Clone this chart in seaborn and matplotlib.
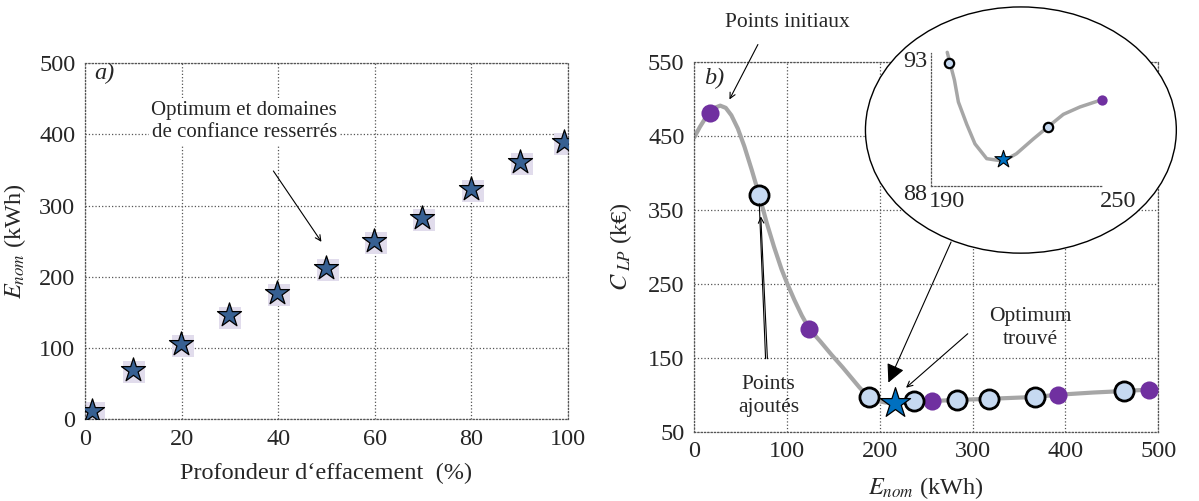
import numpy as np
import pandas as pd
import seaborn as sns
import matplotlib.pyplot as plt
from matplotlib.patches import Ellipse

# =============================================================================
# Data
# =============================================================================

# a) nominal energy vs load shedding depth
depth = [1.5, 9.9, 19.9, 29.8, 39.8, 50.0, 59.9, 69.9, 80.0, 90.2, 99.2]
e_nom = [12, 69, 106, 146, 178, 213, 250, 283, 323, 362, 390]

# b) cost curve and sample points
curve_e = [0, 6, 12, 17, 22, 28, 34, 40, 47, 54, 62, 70, 78, 86, 94, 100,
           108, 116, 124, 136, 148, 160, 170, 178, 184, 188, 196, 206, 216,
           226, 237, 256, 283, 318, 367, 392, 430, 463, 490, 500]
curve_c = [448, 462, 474, 481, 488, 491, 488, 478, 460, 436, 404, 370, 333,
           300, 270, 251, 228, 207, 189, 172, 154, 137, 122, 110, 102, 97,
           92, 89.5, 89.5, 90, 91, 91.5, 93, 94.5, 97, 100, 103, 105, 107, 107]
init_e = [17.5, 124, 256, 392, 490]
init_c = [481, 189, 91.5, 100, 107]
added_e = [70, 188, 237, 283, 318, 367, 463]
added_c = [370, 97, 91, 93, 94.5, 97, 105]
opt_e = [216]
opt_c = [89.5]

# zoomed inset
zoom_e = [195.8, 196.8, 198.3, 199.7, 202.6, 205.5, 209.6, 215.4, 220.0,
          225.9, 231.1, 236.4, 242.2, 250.0]
zoom_c = [93.42, 92.97, 92.3, 91.4, 90.5, 89.7, 89.1, 89.0, 89.3, 89.9,
          90.4, 90.9, 91.2, 91.5]
zoom_added_e = [196.5, 231.1]
zoom_added_c = [93.0, 90.4]
zoom_init_e = [250.0]
zoom_init_c = [91.5]
zoom_opt_e = [215.4]
zoom_opt_c = [89.1]

# =============================================================================
# Style
# =============================================================================

sns.set_style('white')
plt.rcParams['font.family'] = ['Liberation Serif', 'DejaVu Serif']
plt.rcParams['mathtext.fontset'] = 'stix'

gridcol = '#555555'
purple = '#7030a0'
lightblue = '#c6d9f1'
curvecol = '#a6a6a6'

fig = plt.figure(figsize=(11.99, 5.01), dpi=100)
ax1 = fig.add_axes([0.0709, 0.163, 0.4026, 0.7107])
ax2 = fig.add_axes([0.579, 0.1383, 0.387, 0.7379])


def dotted_box(ax):
    ax.grid(True, linestyle=':', color=gridcol, linewidth=0.9)
    for sp in ax.spines.values():
        sp.set_linestyle(':')
        sp.set_color(gridcol)
        sp.set_linewidth(0.9)
    ax.tick_params(length=0, labelsize=17.5, pad=7)


# =============================================================================
# a)
# =============================================================================

dfa = pd.DataFrame({'depth': depth, 'e_nom': e_nom})
# faint lavender shadow behind each star
ax1.scatter(np.array(depth) + 0.3, np.array(e_nom) - 3, marker='s', s=230,
            color='#e1dcec', linewidth=0, zorder=2)
sns.scatterplot(data=dfa, x='depth', y='e_nom', marker='*', s=330,
                color='#376092', edgecolor='black', linewidth=0.9,
                ax=ax1, zorder=3)
ax1.set_xlim(0, 100)
ax1.set_ylim(0, 500)
ax1.set_xticks(range(0, 101, 20))
ax1.set_yticks(range(0, 501, 100))
dotted_box(ax1)
ax1.set_xlabel('Profondeur d\u2018effacement  (%)', fontsize=17.5, labelpad=9)
ax1.set_ylabel(r'$E_{nom}$ (kWh)', fontsize=17.5, labelpad=8)
ax1.text(4.1, 486, 'a)', style='italic', fontsize=17.5, ha='center',
         va='center')
ax1.text(33, 418, 'Optimum et domaines\nde confiance resserrés',
         fontsize=15, ha='center', va='center', linespacing=1.25,
         bbox=dict(facecolor='white', edgecolor='none', pad=2), zorder=4)
ax1.annotate('', xy=(49.3, 246), xytext=(38.7, 352),
             arrowprops=dict(arrowstyle='->', color='black', lw=0.8))

# =============================================================================
# b)
# =============================================================================

sns.lineplot(x=curve_e, y=curve_c, sort=False, estimator=None,
             color=curvecol, linewidth=3, ax=ax2, zorder=2)
sns.scatterplot(x=init_e, y=init_c, s=170, color=purple, linewidth=0,
                ax=ax2, zorder=3)
sns.scatterplot(x=added_e, y=added_c, s=190, color=lightblue,
                edgecolor='black', linewidth=2, ax=ax2, zorder=3)
sns.scatterplot(x=opt_e, y=opt_c, marker='*', s=520, color='#0070c0',
                edgecolor='black', linewidth=0.9, ax=ax2, zorder=4)
ax2.set_xlim(0, 500)
ax2.set_ylim(50, 550)
ax2.set_xticks(range(0, 501, 100))
ax2.set_yticks(range(50, 551, 100))
dotted_box(ax2)
ax2.set_xlabel(r'$E_{nom}$ (kWh)', fontsize=17.5, labelpad=9)
ax2.set_ylabel(r'$C_{\ LP}$ (k€)', fontsize=17.5, labelpad=10)
ax2.text(22, 528, 'b)', style='italic', fontsize=17.5, ha='center',
         va='center')

arrow = dict(arrowstyle='->', color='black', lw=0.8)
ax2.text(100, 604, 'Points initiaux', fontsize=15.5, ha='center',
         va='center', clip_on=False)
ax2.annotate('', xy=(36.6, 496), xytext=(70, 577), arrowprops=arrow,
             annotation_clip=False)
ax2.text(80, 98, 'Points\najoutés', fontsize=15.5, ha='center', va='center',
         linespacing=1.25)
ax2.annotate('', xy=(71.6, 345), xytext=(79, 145), arrowprops=arrow)
ax2.annotate('', xy=(70, 362), xytext=(77, 145),
             arrowprops=dict(arrowstyle='-', color='black', lw=0.8))
ax2.text(362, 190, 'Optimum\ntrouvé', fontsize=15.5, ha='center',
         va='center', linespacing=1.25)
ax2.annotate('', xy=(226, 107), xytext=(297, 185), arrowprops=arrow)

# magnifier ellipse
ell = Ellipse((352, 458), 335, 333, facecolor='white', edgecolor='black',
              linewidth=1, zorder=5, clip_on=False)
ax2.add_patch(ell)
ax2.annotate('', xy=(208, 113), xytext=(278, 310),
             arrowprops=dict(arrowstyle='-|>', color='black', lw=0.8,
                             mutation_scale=28), zorder=6)

# inset
ins = fig.add_axes([0.7762, 0.6293, 0.1431, 0.2643])
ins.patch.set_alpha(0)
sns.lineplot(x=zoom_e, y=zoom_c, sort=False, estimator=None,
             color=curvecol, linewidth=2.5, ax=ins, zorder=2)
ins.lines[0].set_clip_on(False)
sns.scatterplot(x=zoom_init_e, y=zoom_init_c, s=55, color=purple,
                linewidth=0, ax=ins, zorder=3, clip_on=False)
sns.scatterplot(x=zoom_added_e, y=zoom_added_c, s=45, color=lightblue,
                edgecolor='black', linewidth=1.6, ax=ins, zorder=3)
sns.scatterplot(x=zoom_opt_e, y=zoom_opt_c, marker='*', s=170,
                color='#0070c0', edgecolor='black', linewidth=0.8, ax=ins,
                zorder=4)
ins.set_xlim(190, 250)
ins.set_ylim(88, 93.38)
ins.set_xticks([])
ins.set_yticks([])
ins.set_xlabel('')
ins.set_ylabel('')
for side in ['top', 'right']:
    ins.spines[side].set_visible(False)
for side in ['left', 'bottom']:
    ins.spines[side].set_linestyle(':')
    ins.spines[side].set_color(gridcol)
    ins.spines[side].set_linewidth(0.9)
ins.text(-0.02, 0.937, '93', transform=ins.transAxes, fontsize=17.5,
         ha='right', va='center')
ins.text(-0.02, -0.07, '88', transform=ins.transAxes, fontsize=17.5,
         ha='right', va='center')
ins.text(0.097, -0.12, '190', transform=ins.transAxes, fontsize=17.5,
         ha='center', va='center')
ins.text(1.093, -0.12, '250', transform=ins.transAxes, fontsize=17.5,
         ha='center', va='center')

plt.savefig('out.png', dpi=100)
